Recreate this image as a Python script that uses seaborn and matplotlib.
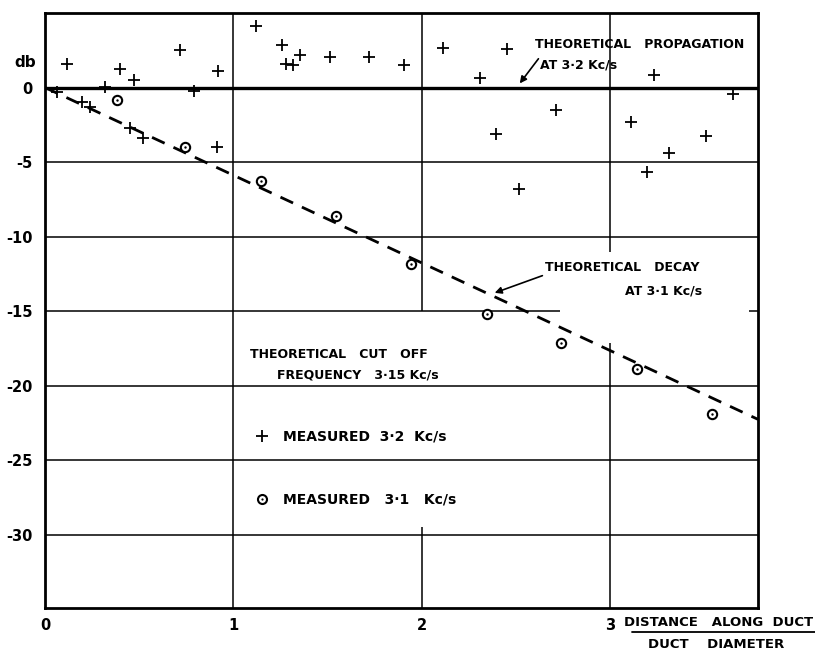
import matplotlib
matplotlib.use("Agg")
import numpy as np
import pandas as pd
import seaborn as sns
import matplotlib.pyplot as plt
from matplotlib.lines import Line2D

# measured at 3.2 Kc/s (crosses)
x_32 = [0.062, 0.115, 0.195, 0.239, 0.318, 0.398, 0.451, 0.474, 0.522, 0.716,
        0.792, 0.914, 0.920, 1.119, 1.261, 1.278, 1.317, 1.356, 1.512, 1.720,
        1.906, 2.115, 2.310, 2.396, 2.452, 2.516, 2.714, 3.112, 3.195, 3.234,
        3.316, 3.510, 3.652]
db_32 = [-0.32, 1.55, -0.97, -1.30, 0.02, 1.22, -2.72, 0.54, -3.40, 2.52,
         -0.25, -3.97, 1.10, 4.14, 2.86, 1.60, 1.51, 2.16, 2.07, 2.07,
         1.51, 2.64, 0.61, -3.11, 2.57, -6.82, -1.53, -2.34, -5.68, 0.83,
         -4.41, -3.22, -0.41]

# measured at 3.1 Kc/s (circles)
x_31 = [0.380, 0.746, 1.149, 1.544, 1.945, 2.346, 2.741, 3.144, 3.542]
db_31 = [-0.81, -3.97, -6.28, -8.63, -11.80, -15.16, -17.14, -18.90, -21.90]

# theoretical decay at 3.1 Kc/s (straight line)
theory_x = [0.0, 3.786]
theory_db = [0.0, -22.25]

y_ticks = [0, -5, -10, -15, -20, -25, -30]
x_ticks = [0, 1, 2, 3]

sns.set_style("white")
plt.rcParams['font.family'] = ['Liberation Sans Narrow', 'DejaVu Sans']
plt.rcParams['font.weight'] = 'bold'
plt.rcParams['text.color'] = 'black'
plt.rcParams['xtick.color'] = 'black'
plt.rcParams['ytick.color'] = 'black'

fig = plt.figure(figsize=(8.15, 6.52), dpi=100)
ax = fig.add_axes([45 / 815, 1 - 608 / 652, 713 / 815, 595 / 652])
ax.set_xlim(0, 3.786)
ax.set_ylim(-34.9, 5.0)

# grid (drawn piecewise like the original sheet)
ax.axhline(0, color='black', lw=2.4, zorder=1)
for yv in [-5, -10, -20, -25, -30]:
    ax.axhline(yv, color='black', lw=1.1, zorder=1)
ax.hlines(-15, 0, 2.735, color='black', lw=1.1, zorder=1)
ax.hlines(-15, 3.74, 3.786, color='black', lw=1.1, zorder=1)
ax.axvline(1, color='black', lw=1.1, zorder=1)
ax.vlines(2, -15, 5.0, color='black', lw=1.1, zorder=1)
ax.vlines(2, -34.9, -29.5, color='black', lw=1.1, zorder=1)
ax.vlines(3, -11.0, 5.0, color='black', lw=1.1, zorder=1)
ax.vlines(3, -34.9, -17.1, color='black', lw=1.1, zorder=1)

for sp in ax.spines.values():
    sp.set_linewidth(2)
    sp.set_color('black')

sns.lineplot(x=theory_x, y=theory_db, ax=ax, color='black', lw=2.0,
             linestyle=(0, (5, 3.5)), zorder=2)
sns.scatterplot(x=x_32, y=db_32, ax=ax, marker='+', color='black', s=70,
                linewidth=1.3, zorder=3)
sns.scatterplot(x=x_31, y=db_31, ax=ax, marker='o', facecolor='white',
                edgecolor='black', s=45, linewidth=1.5, zorder=3)
sns.scatterplot(x=x_31, y=db_31, ax=ax, marker='o', color='black', s=3,
                linewidth=0, zorder=4)

ax.set_yticks(y_ticks)
ax.set_yticklabels(['0', '-5', '-10', '-15', '-20', '-25', '-30'])
ax.set_xticks(x_ticks)
ax.set_xticklabels([str(v) for v in x_ticks])
ax.tick_params(length=0, labelsize=10.5, pad=9)
ax.tick_params(axis='x', pad=7)
for lab in ax.get_xticklabels() + ax.get_yticklabels():
    lab.set_fontweight('bold')
ax.set_xlabel('')
ax.set_ylabel('')

ax.text(-0.106, 1.68, 'db', fontsize=11, fontweight='bold', ha='center',
        va='center', clip_on=False)

fs = 9
ax.text(2.602, 2.89, 'THEORETICAL   PROPAGATION', fontsize=fs, fontweight='bold',
        ha='left', va='center')
ax.text(2.629, 1.48, 'AT 3·2 Kc/s', fontsize=fs, fontweight='bold',
        ha='left', va='center')
ax.annotate('', xy=(2.512, 0.13), xytext=(2.629, 2.08),
            arrowprops=dict(arrowstyle='-|>', color='black', lw=1.2,
                            mutation_scale=10))

ax.text(2.655, -12.08, 'THEORETICAL   DECAY', fontsize=fs, fontweight='bold',
        ha='left', va='center')
ax.text(3.489, -13.62, 'AT 3·1 Kc/s', fontsize=fs, fontweight='bold',
        ha='right', va='center')
ax.annotate('', xy=(2.374, -13.83), xytext=(2.655, -12.55),
            arrowprops=dict(arrowstyle='-|>', color='black', lw=1.2,
                            mutation_scale=10))

ax.text(1.089, -17.92, 'THEORETICAL   CUT   OFF', fontsize=fs, fontweight='bold',
        ha='left', va='center')
ax.text(1.232, -19.26, 'FREQUENCY   3·15 Kc/s', fontsize=fs, fontweight='bold',
        ha='left', va='center')

cross_h = Line2D([], [], ls='none', marker='+', color='black', ms=8, mew=1.3)
ring_h = Line2D([], [], ls='none', marker='o', mfc='white', mec='black',
                ms=6.5, mew=1.5)
dot_h = Line2D([], [], ls='none', marker='o', color='black', ms=1.6, mew=0)
leg = ax.legend([cross_h, (ring_h, dot_h)],
                ['MEASURED  3·2  Kc/s', 'MEASURED   3·1   Kc/s'],
                loc='center left', bbox_to_anchor=(0.2875, 0.235), frameon=False,
                borderaxespad=0, labelspacing=3.5, handletextpad=1.0,
                handlelength=1.0, prop={'size': 10, 'weight': 'bold'})

fig.text(813 / 815, 1 - 622 / 652, 'DISTANCE   ALONG  DUCT', fontsize=9.5,
         fontweight='bold', ha='right', va='center')
fig.add_artist(Line2D([632 / 815, 815 / 815], [1 - 632 / 652, 1 - 632 / 652],
                      color='black', lw=1.3))
fig.text(716 / 815, 1 - 645 / 652, 'DUCT    DIAMETER', fontsize=9.5,
         fontweight='bold', ha='center', va='center')

fig.savefig('out.png', dpi=100)
